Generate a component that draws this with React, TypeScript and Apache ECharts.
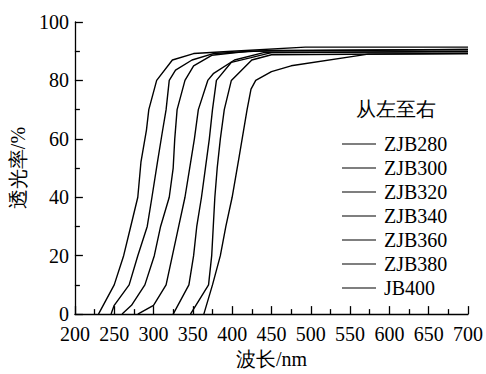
import React, { useEffect, useRef } from "react";
import * as echarts from "echarts";

const seriesNames = ["ZJB280", "ZJB300", "ZJB320", "ZJB340", "ZJB360", "ZJB380", "JB400"];

const zjb280: number[][] = [[230,0],[250,10],[262,20],[271,30],[280,40],[284,52],[291,63],[294,70],[304,80],[324,87],[351,89.2],[400,90],[493,91.4],[700,91.4]];
const zjb300: number[][] = [[246,0],[250,3],[269,10],[280,20],[292,30],[298,40],[305,52],[311,62],[316,70],[320,80],[328,83.5],[349,87],[376,89.2],[450,90.3],[700,90.6]];
const zjb320: number[][] = [[260,0],[272,3],[289,10],[301,20],[309,30],[320,40],[325,50],[327,60],[330,70],[340,80],[351,85],[374,88.6],[420,90],[700,90.6]];
const zjb340: number[][] = [[280,0],[300,3],[316,10],[324,20],[332,30],[340,40],[346,50],[352,60],[357,70],[369,80],[376,82.3],[403,87],[440,89.5],[700,89.9]];
const zjb360: number[][] = [[325,0],[345,10],[351,20],[355,30],[361,40],[366,50],[371,60],[375,70],[380,80],[399,86.2],[424,87.8],[450,89.5],[700,89.9]];
const zjb380: number[][] = [[347,0],[370,10],[374,20],[376,30],[378,40],[381,50],[385,60],[390,70],[399,80],[425,87],[450,88.8],[700,89.2]];
const jb400: number[][] = [[364,0],[375,10],[385,20],[392,30],[400,40],[409,54],[419,70],[424,77],[430,80],[450,83],[475,85],[573,89],[700,89.2]];

const seriesData = [zjb280, zjb300, zjb320, zjb340, zjb360, zjb380, jb400];

const xTicks = { min: 200, max: 700, interval: 50 };
const yTicks = { min: 0, max: 100, interval: 20 };

const FONT = "Liberation Serif";

export default function App() {
  const ref = useRef<HTMLDivElement>(null);
  useEffect(() => {
    if (!ref.current) return;
    const chart = echarts.init(ref.current, undefined, { renderer: "svg" });
    const axisCommon = {
      axisLine: { show: true, lineStyle: { color: "#000", width: 1.3 } },
      axisTick: { show: true, inside: true, length: 8, lineStyle: { color: "#000", width: 1.3 } },
      minorTick: { show: true, splitNumber: 2, length: 5, lineStyle: { color: "#000", width: 1.3 } },
      splitLine: { show: false },
      axisLabel: { color: "#000", fontSize: 20, fontFamily: FONT },
      nameTextStyle: { color: "#000", fontSize: 20, fontFamily: FONT },
    };
    chart.setOption({
      animation: false,
      backgroundColor: "#fff",
      textStyle: { fontFamily: FONT },
      title: {
        text: "从左至右",
        left: 356,
        top: 99,
        textStyle: { color: "#000", fontSize: 20, fontWeight: "normal", fontFamily: FONT },
        padding: 0,
      },
      legend: {
        orient: "vertical",
        left: 342,
        top: 134,
        padding: 0,
        itemWidth: 34,
        itemHeight: 14,
        itemGap: 4,
        icon: "path://M0,0 L34,0 L34,1 L0,1 Z",
        textStyle: { color: "#000", fontSize: 20, fontFamily: FONT, padding: [0, 0, 0, 3] },
        data: seriesNames,
      },
      grid: { left: 67, right: 17, top: 22, bottom: 53, containLabel: false },
      xAxis: {
        type: "value",
        ...xTicks,
        name: "波长/nm",
        nameLocation: "middle",
        nameGap: 34,
        ...axisCommon,
        axisLabel: { ...axisCommon.axisLabel, margin: 10 },
      },
      yAxis: {
        type: "value",
        ...yTicks,
        name: "透光率/%",
        nameLocation: "middle",
        nameGap: 38,
        ...axisCommon,
        axisLabel: { ...axisCommon.axisLabel, margin: 6 },
      },
      series: seriesNames.map((n, i) => ({
        name: n,
        type: "line",
        data: seriesData[i],
        symbol: "none",
        smooth: false,
        itemStyle: { color: "#000" },
        lineStyle: { color: "#000", width: 1.4 },
      })),
    });
    return () => chart.dispose();
  }, []);
  return <div ref={ref} style={{ position: "fixed", left: 0, top: 0, width: 486, height: 374 }} />;
}
